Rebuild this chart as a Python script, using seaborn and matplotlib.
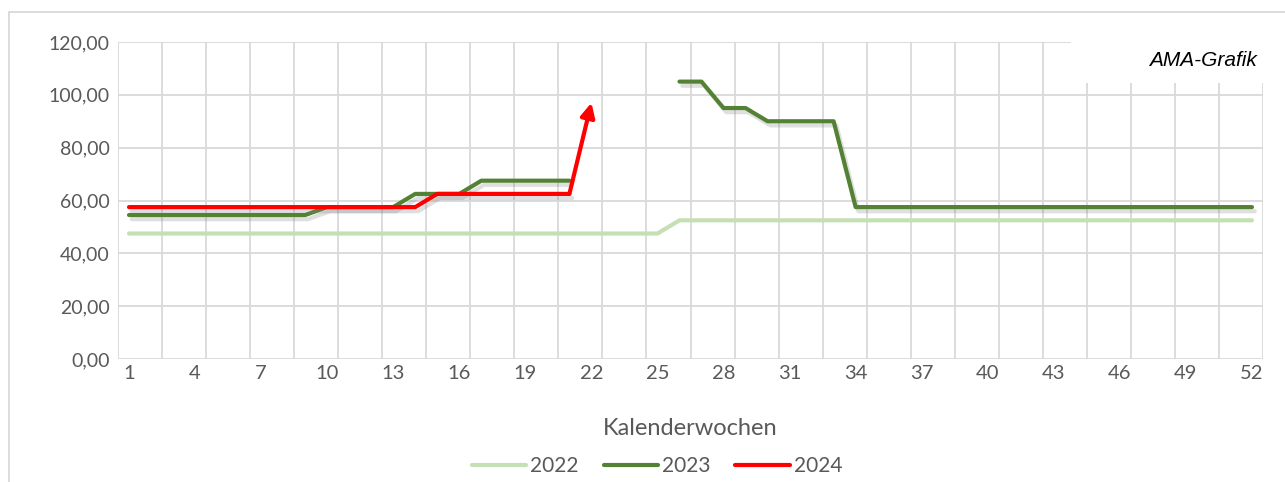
import numpy as np
import pandas as pd
import matplotlib
matplotlib.use("Agg")
import matplotlib.pyplot as plt
import matplotlib.patheffects as pe
from matplotlib.lines import Line2D
from matplotlib.patches import Rectangle
from matplotlib.ticker import FuncFormatter
import seaborn as sns

# Kalenderwochen und Preise je Jahr
weeks = list(range(1, 53))
preis_2022 = [47.5] * 25 + [52.5] * 27
preis_2023 = ([54.5] * 9 + [57.5] * 4 + [62.5] * 3 + [67.5] * 5 + [np.nan] * 4
              + [105.0] * 2 + [95.0] * 2 + [90.0] * 4 + [57.5] * 19)
weeks_2024 = list(range(1, 23))
preis_2024 = [57.5] * 14 + [62.5] * 7 + [97.0]

years = ["2022", "2023", "2024"]
colors = {"2022": "#C5E0B4", "2023": "#548235", "2024": "#FF0000"}
xtick_labels = list(range(1, 53, 3))

sns.set_theme(style="white")
plt.rcParams["font.family"] = ["Lato", "DejaVu Sans"]
text_col = "#595959"
grid_col = "#D9D9D9"

# 2023 hat eine Lücke -> Segmente getrennt zeichnen
df23 = pd.DataFrame({"Woche": weeks, "Preis": preis_2023})
df23["seg"] = df23["Preis"].isna().cumsum()
df23 = df23.dropna()

fig = plt.figure(figsize=(12.85, 4.82), dpi=100)
ax = fig.add_axes([118 / 1285, 1 - 359 / 482, (1263 - 118) / 1285, (359 - 42) / 482])

shadow = [pe.SimpleLineShadow(offset=(2, -3), shadow_color="gray", alpha=0.25), pe.Normal()]

sns.lineplot(x=weeks, y=preis_2022, color=colors["2022"], lw=3, ax=ax,
             solid_capstyle="round", zorder=3)
sns.lineplot(data=df23, x="Woche", y="Preis", units="seg", estimator=None,
             color=colors["2023"], lw=3, ax=ax, solid_capstyle="round",
             path_effects=shadow, zorder=4)
sns.lineplot(x=weeks_2024[:-1], y=preis_2024[:-1], color=colors["2024"], lw=3, ax=ax,
             solid_capstyle="round", path_effects=shadow, zorder=5)
ax.annotate("", xy=(weeks_2024[-1], preis_2024[-1]), xytext=(weeks_2024[-2], preis_2024[-2]),
            arrowprops=dict(arrowstyle="-|>,head_length=0.7,head_width=0.35",
                            color=colors["2024"], lw=3, shrinkA=0, shrinkB=0),
            zorder=5)

ax.set_xlim(0.5, 52.5)
ax.set_ylim(0, 120)
ax.set_yticks(range(0, 121, 20))
ax.yaxis.set_major_formatter(FuncFormatter(lambda v, p: f"{v:.2f}".replace(".", ",")))
ax.set_xticks(xtick_labels)
ax.set_xticks(np.arange(0.5, 53, 2), minor=True)
ax.tick_params(axis="both", which="both", length=0, labelsize=14.5, colors=text_col)
ax.tick_params(axis="y", labelsize=14)
ax.tick_params(axis="x", pad=4)
ax.tick_params(axis="y", pad=6)
ax.set_axisbelow(True)
ax.grid(axis="y", which="major", color=grid_col, lw=1.3)
ax.grid(axis="x", which="minor", color=grid_col, lw=1.3)
ax.grid(axis="x", which="major", visible=False)
for s in ax.spines.values():
    s.set_visible(False)

ax.set_xlabel("Kalenderwochen", fontsize=17, color=text_col)
ax.xaxis.set_label_coords(0.5, -0.218)
ax.xaxis.label.set_va("center")
ax.set_ylabel("")

# weisses Feld für den Quellenhinweis
ax.add_patch(Rectangle((1071 / 1285, 1 - 83 / 482), 0.2, 0.2, transform=fig.transFigure,
                       facecolor="white", edgecolor="none", clip_on=False, zorder=1))
fig.text(1257 / 1285, 1 - 60 / 482, "AMA-Grafik", ha="right", va="center",
         fontsize=15, style="italic", family=["Liberation Sans", "DejaVu Sans"], color="black")

# äusserer Rahmen
fig.add_artist(Rectangle((9 / 1285, -0.1), 1.2, 1 - 12 / 482 + 0.1, transform=fig.transFigure,
                         facecolor="none", edgecolor=grid_col, lw=1.3))

handles = [Line2D([0], [0], color=colors[y], lw=3, solid_capstyle="round") for y in years]
leg = fig.legend(handles, years, loc="center", bbox_to_anchor=(657 / 1285, 1 - 466 / 482), ncol=3,
                 frameon=False, fontsize=15, handlelength=2.6, handletextpad=0.2,
                 columnspacing=1.2)
for t in leg.get_texts():
    t.set_color(text_col)

fig.savefig("out.png", dpi=100)
